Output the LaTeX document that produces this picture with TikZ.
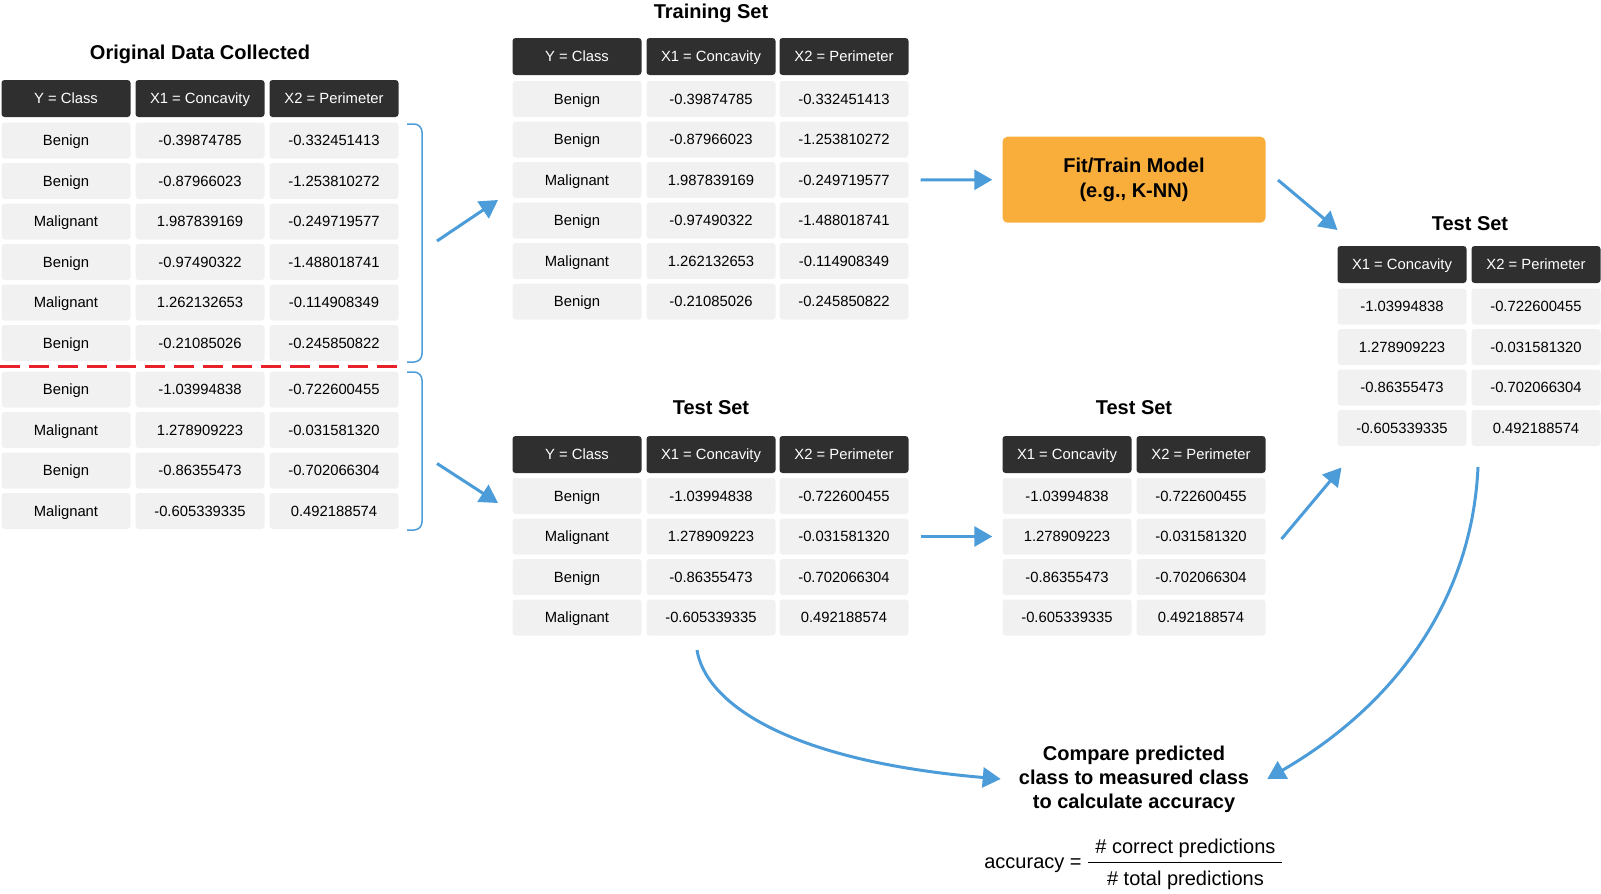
\documentclass[tikz,border=0pt]{standalone}
\usepackage{amsmath}
\usepackage{fontspec}
\setmainfont{Liberation Sans}
\usetikzlibrary{arrows.meta}
\definecolor{cellgray}{HTML}{F1F1F1}
\definecolor{hdrgray}{HTML}{2F2F2F}
\definecolor{arrblue}{HTML}{4B9CD8}
\definecolor{fitorange}{HTML}{F9AE3C}
\definecolor{splitred}{HTML}{E8212A}
\begin{document}
\begin{tikzpicture}[x=1pt,y=-1pt,
        cell/.style={fill=cellgray,rounded corners=3pt,minimum width=129pt,minimum height=36pt,inner sep=0pt,text height=10.6pt,text depth=0pt,font=\fontsize{14.8}{16}\selectfont},
        hdr/.style={cell,fill=hdrgray,text=white,minimum height=37pt},
        ttl/.style={anchor=base,font=\fontsize{20}{24}\selectfont\bfseries},
        arr/.style={draw=arrblue,line width=3pt,-{Triangle[length=18pt,width=20pt]}},
        brk/.style={draw=arrblue,line width=1.5pt,rounded corners=8pt}]
                \useasboundingbox (0,0) rectangle (1601,894);
                % original data
                \node[ttl] (orgt) at (200,59) {Original Data Collected};
                \node[hdr] (orgh1) at (66,98.5) {Y = Class};
                \node[hdr] (orgh2) at (200,98.5) {X1 = Concavity};
                \node[hdr] (orgh3) at (334,98.5) {X2 = Perimeter};
                \node[cell] (org11) at (66,140.5) {Benign};
                \node[cell] (org12) at (200,140.5) {-0.39874785};
                \node[cell] (org13) at (334,140.5) {-0.332451413};
                \node[cell] (org21) at (66,181) {Benign};
                \node[cell] (org22) at (200,181) {-0.87966023};
                \node[cell] (org23) at (334,181) {-1.253810272};
                \node[cell] (org31) at (66,221.5) {Malignant};
                \node[cell] (org32) at (200,221.5) {1.987839169};
                \node[cell] (org33) at (334,221.5) {-0.249719577};
                \node[cell] (org41) at (66,262) {Benign};
                \node[cell] (org42) at (200,262) {-0.97490322};
                \node[cell] (org43) at (334,262) {-1.488018741};
                \node[cell] (org51) at (66,302.5) {Malignant};
                \node[cell] (org52) at (200,302.5) {1.262132653};
                \node[cell] (org53) at (334,302.5) {-0.114908349};
                \node[cell] (org61) at (66,343) {Benign};
                \node[cell] (org62) at (200,343) {-0.21085026};
                \node[cell] (org63) at (334,343) {-0.245850822};
                \node[cell] (org71) at (66,389.5) {Benign};
                \node[cell] (org72) at (200,389.5) {-1.03994838};
                \node[cell] (org73) at (334,389.5) {-0.722600455};
                \node[cell] (org81) at (66,430) {Malignant};
                \node[cell] (org82) at (200,430) {1.278909223};
                \node[cell] (org83) at (334,430) {-0.031581320};
                \node[cell] (org91) at (66,470.5) {Benign};
                \node[cell] (org92) at (200,470.5) {-0.86355473};
                \node[cell] (org93) at (334,470.5) {-0.702066304};
                \node[cell] (org101) at (66,511) {Malignant};
                \node[cell] (org102) at (200,511) {-0.605339335};
                \node[cell] (org103) at (334,511) {0.492188574};
                \draw[splitred,line width=3pt,dash pattern=on 20pt off 9pt] (0,366.5) -- (400,366.5);
                \draw[brk] (407,124) -- (422,124) -- (422,362) -- (407,362);
                \draw[brk] (407,372) -- (422,372) -- (422,530) -- (407,530);
                % training set
                \node[ttl] (trnt) at (711,18) {Training Set};
                \node[hdr] (trnh1) at (577,56.5) {Y = Class};
                \node[hdr] (trnh2) at (711,56.5) {X1 = Concavity};
                \node[hdr] (trnh3) at (844,56.5) {X2 = Perimeter};
                \node[cell] (trn11) at (577,99) {Benign};
                \node[cell] (trn12) at (711,99) {-0.39874785};
                \node[cell] (trn13) at (844,99) {-0.332451413};
                \node[cell] (trn21) at (577,139.5) {Benign};
                \node[cell] (trn22) at (711,139.5) {-0.87966023};
                \node[cell] (trn23) at (844,139.5) {-1.253810272};
                \node[cell] (trn31) at (577,180) {Malignant};
                \node[cell] (trn32) at (711,180) {1.987839169};
                \node[cell] (trn33) at (844,180) {-0.249719577};
                \node[cell] (trn41) at (577,220.5) {Benign};
                \node[cell] (trn42) at (711,220.5) {-0.97490322};
                \node[cell] (trn43) at (844,220.5) {-1.488018741};
                \node[cell] (trn51) at (577,261) {Malignant};
                \node[cell] (trn52) at (711,261) {1.262132653};
                \node[cell] (trn53) at (844,261) {-0.114908349};
                \node[cell] (trn61) at (577,301.5) {Benign};
                \node[cell] (trn62) at (711,301.5) {-0.21085026};
                \node[cell] (trn63) at (844,301.5) {-0.245850822};
                % test set with class
                \node[ttl] (tstt) at (711,414.5) {Test Set};
                \node[hdr] (tsth1) at (577,454.5) {Y = Class};
                \node[hdr] (tsth2) at (711,454.5) {X1 = Concavity};
                \node[hdr] (tsth3) at (844,454.5) {X2 = Perimeter};
                \node[cell] (tst11) at (577,496) {Benign};
                \node[cell] (tst12) at (711,496) {-1.03994838};
                \node[cell] (tst13) at (844,496) {-0.722600455};
                \node[cell] (tst21) at (577,536.5) {Malignant};
                \node[cell] (tst22) at (711,536.5) {1.278909223};
                \node[cell] (tst23) at (844,536.5) {-0.031581320};
                \node[cell] (tst31) at (577,577) {Benign};
                \node[cell] (tst32) at (711,577) {-0.86355473};
                \node[cell] (tst33) at (844,577) {-0.702066304};
                \node[cell] (tst41) at (577,617.5) {Malignant};
                \node[cell] (tst42) at (711,617.5) {-0.605339335};
                \node[cell] (tst43) at (844,617.5) {0.492188574};
                % test set without class
                \node[ttl] (prdt) at (1134,414.5) {Test Set};
                \node[hdr] (prdh1) at (1067,454.5) {X1 = Concavity};
                \node[hdr] (prdh2) at (1201,454.5) {X2 = Perimeter};
                \node[cell] (prd11) at (1067,496) {-1.03994838};
                \node[cell] (prd12) at (1201,496) {-0.722600455};
                \node[cell] (prd21) at (1067,536.5) {1.278909223};
                \node[cell] (prd22) at (1201,536.5) {-0.031581320};
                \node[cell] (prd31) at (1067,577) {-0.86355473};
                \node[cell] (prd32) at (1201,577) {-0.702066304};
                \node[cell] (prd41) at (1067,617.5) {-0.605339335};
                \node[cell] (prd42) at (1201,617.5) {0.492188574};
                % model and predicted test set
                \node[fill=fitorange,rounded corners=5pt,minimum width=263pt,minimum height=86pt,align=center,font=\fontsize{20}{25}\selectfont\bfseries] (fit) at (1134,179.7) {Fit/Train Model\\(e.g., K-NN)};
                \node[ttl] (rtst) at (1470,230.5) {Test Set};
                \node[hdr] (rtsh1) at (1402,264.5) {X1 = Concavity};
                \node[hdr] (rtsh2) at (1536,264.5) {X2 = Perimeter};
                \node[cell] (rts11) at (1402,306.5) {-1.03994838};
                \node[cell] (rts12) at (1536,306.5) {-0.722600455};
                \node[cell] (rts21) at (1402,347) {1.278909223};
                \node[cell] (rts22) at (1536,347) {-0.031581320};
                \node[cell] (rts31) at (1402,387.5) {-0.86355473};
                \node[cell] (rts32) at (1536,387.5) {-0.702066304};
                \node[cell] (rts41) at (1402,428) {-0.605339335};
                \node[cell] (rts42) at (1536,428) {0.492188574};
                % comparison
                \node[align=center,inner xsep=18pt,font=\fontsize{20}{24}\selectfont\bfseries] (cmp) at (1134,779) {Compare predicted\\class to measured class\\to calculate accuracy};
                \node[anchor=base,font=\fontsize{20}{24}\selectfont] (acc) at (1134,868) {accuracy = $\dfrac{\kern7pt\text{\# correct predictions}\kern7pt}{\text{\rule{0pt}{20pt}\# total predictions}}$};
                \coordinate (upa) at (437,241);
                \coordinate (upb) at (498,200);
                \coordinate (dna) at (437,463.5);
                \coordinate (dnb) at (498,503);
                \coordinate (fita) at (1278,180);
                \coordinate (fitb) at (1337.5,230);
                \coordinate (prda) at (1281.5,539);
                \coordinate (prdb) at (1341.5,467.5);
                \coordinate (cl) at (697,650);
                \coordinate (cr) at (1478,467);
                \draw[arr] (upa) -- (upb);
                \draw[arr] (dna) -- (dnb);
                \draw[arr] ([xshift=12pt]trn33.east) -- ([xshift=-10pt]fit.west);
                \draw[arr] ([xshift=12pt]tst23.east) -- ([xshift=-10pt]prd21.west);
                \draw[arr] (fita) -- (fitb);
                \draw[arr] (prda) -- (prdb);
                \draw[arr] (cl) .. controls (705,700) and (780,760) .. (cmp.west);
                \draw[arr] (cr) .. controls (1472,600) and (1395,705) .. (cmp.east);
\end{tikzpicture}
\end{document}
